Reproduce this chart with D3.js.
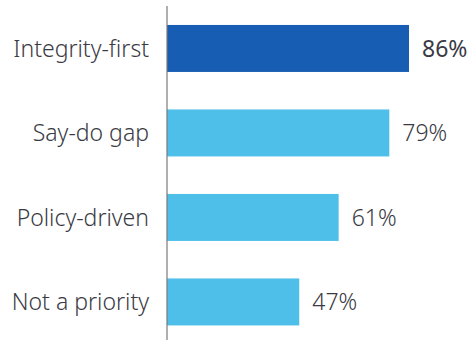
<!DOCTYPE html>
<html><head><meta charset="utf-8">
<script src="https://cdn.jsdelivr.net/npm/d3@7"></script>
<style>html,body{margin:0;padding:0;background:#fff;}</style>
</head><body>
<svg id="c" width="467" height="340"></svg>
<script>
const categories = ["Integrity-first", "Say-do gap", "Policy-driven", "Not a priority"];
const values = [86, 79, 61, 47];
const colors = ["#165db3", "#4ebfe9", "#4ebfe9", "#4ebfe9"];

const svg = d3.select("#c");
const x = d3.scaleLinear().domain([0, 100]).range([167, 448.4]);
const y = d3.scaleBand().domain(categories).range([6.2, 344.2]).paddingInner(0.444).paddingOuter(0.222);

svg.selectAll("rect.bar").data(categories).join("rect")
  .attr("class", "bar")
  .attr("x", x(0))
  .attr("y", d => y(d))
  .attr("width", (d, i) => x(values[i]) - x(0))
  .attr("height", y.bandwidth())
  .attr("fill", (d, i) => colors[i]);

svg.append("line").attr("x1", 167).attr("x2", 167).attr("y1", 6).attr("y2", 340)
  .attr("stroke", "#7a7a7a").attr("stroke-width", 1.2);

svg.selectAll("text.cat").data(categories).join("text")
  .attr("class", "cat")
  .attr("x", 149)
  .attr("y", d => y(d) + y.bandwidth() / 2)
  .attr("dy", "0.36em")
  .attr("text-anchor", "end")
  .attr("font-family", "Noto Sans, sans-serif")
  .attr("font-size", 23)
  .attr("font-weight", 300)
  .attr("fill", "#3a3a44")
  .text(d => d);

svg.selectAll("text.val").data(categories).join("text")
  .attr("class", "val")
  .attr("x", (d, i) => x(values[i]) + 13)
  .attr("y", d => y(d) + y.bandwidth() / 2)
  .attr("dy", "0.36em")
  .attr("font-family", "Noto Sans, sans-serif")
  .attr("font-size", 23)
  .attr("font-weight", (d, i) => i === 0 ? 400 : 300)
  .attr("fill", "#3a3a44")
  .text((d, i) => values[i] + "%");
</script>
</body></html>
